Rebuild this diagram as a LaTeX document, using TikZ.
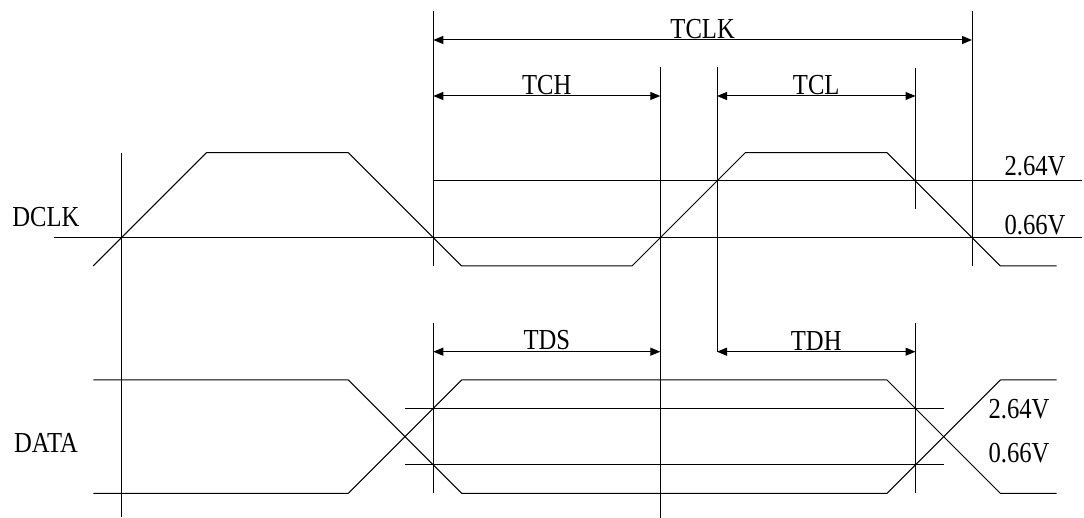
\documentclass[tikz,border=0pt]{standalone}
\usepackage{fontspec}
\setmainfont{Liberation Serif}[FakeStretch=0.85]
\usetikzlibrary{arrows.meta}
\begin{document}
\begin{tikzpicture}[x=0.5pt, y=-0.5pt, line width=0.5pt, line join=round, >={Triangle[length=5pt,width=4pt]}, font=\fontsize{14.5}{16}\selectfont,
	dimtext/.style={midway, above, inner sep=0.5pt},
	lvltext/.style={inner sep=0pt}]
	\useasboundingbox (0,0) rectangle (1084,518);
	
	% reference levels
	\path
	(54,237.7) coordinate (clkLo) (1082,237.7) coordinate (clkLoR)
	(433.3,181) coordinate (clkHi) (1082,181) coordinate (clkHiR)
	(405,408.3) coordinate (datHi) (943.7,408.3) coordinate (datHiR)
	(405,465) coordinate (datLo) (943.7,465) coordinate (datLoR);
	\draw (clkLo) -- (clkLoR) (clkHi) -- (clkHiR) (datHi) -- (datHiR) (datLo) -- (datLoR);
	
	% DCLK
	\draw (93.2,266) -- (206.5,152.7) -- (348.3,152.7) -- (461.7,266) -- (632,266) -- (745.3,152.7) -- (887,152.7) -- (1000.3,266) -- (1056.7,266);
	
	% DATA
	\draw (93.3,380) -- (348.3,380) -- (461.7,493.3) -- (887,493.3) -- (1000.3,380) -- (1056.7,380);
	\draw (93.3,493.3) -- (348.3,493.3) -- (461.7,380) -- (887,380) -- (1000.3,493.3) -- (1056.7,493.3);
	
	% timing marks
	\foreach \x/\t/\b in {121.5/152.7/517, 433.3/11/266, 660.3/67.3/518, 717/67.3/351.7, 915.5/67.7/209.3, 972/11/266, 433.3/322.7/493.3, 915.5/322.7/493.3}
	\draw (\x,\t) -- (\x,\b);
	
	\path
	(433.3,40) coordinate (clkL) (972,40) coordinate (clkR)
	(433.3,96) coordinate (chL) (660.3,96) coordinate (chR)
	(717,96) coordinate (clL) (915.5,96) coordinate (clR)
	(433.3,351.7) coordinate (dsL) (660.3,351.7) coordinate (dsR)
	(717,351.7) coordinate (dhL) (915.5,351.7) coordinate (dhR);
	
	\foreach \a/\b/\t in {clkL/clkR/TCLK, chL/chR/TCH, clL/clR/TCL, dsL/dsR/TDS, dhL/dhR/TDH}
	\draw [<->] (\a) -- (\b) node[dimtext] {\t};
	
	% labels
	\node[lvltext] (dclk) at (46,217) {DCLK};
	\node[lvltext] (data) at (46,443) {DATA};
	\node[lvltext] (clkV1) at (1035,166.5) {2.64V};
	\node[lvltext] (clkV2) at (1035,225) {0.66V};
	\node[lvltext] (datV1) at (1019,409) {2.64V};
	\node[lvltext] (datV2) at (1019,453) {0.66V};
\end{tikzpicture}
\end{document}
